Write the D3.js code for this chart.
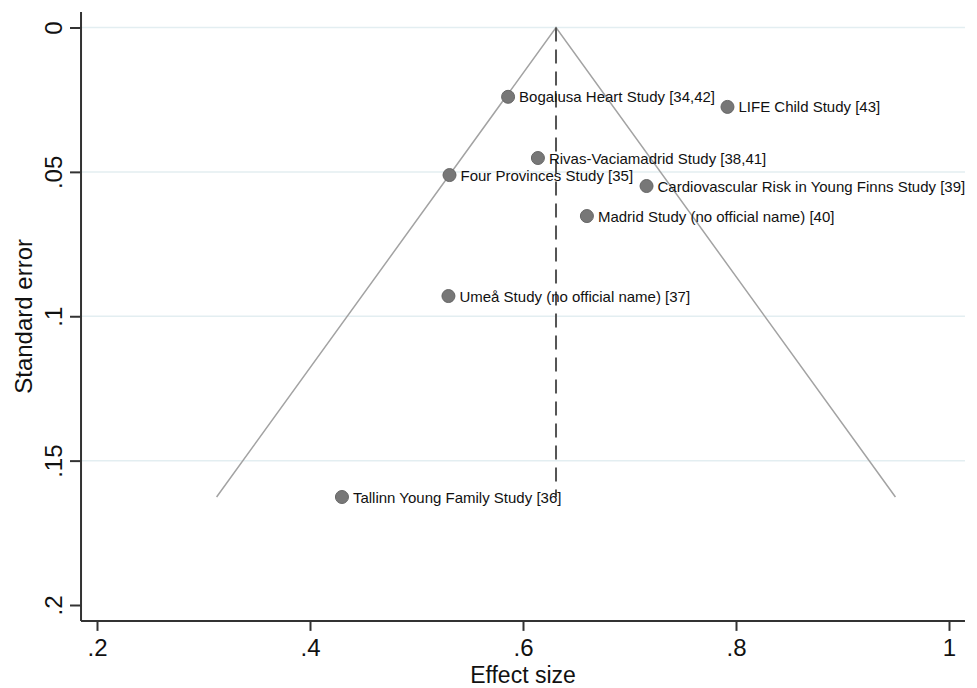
<!DOCTYPE html>
<html>
<head>
<meta charset="utf-8">
<script src="https://cdn.jsdelivr.net/npm/d3@7"></script>
<style>
  html, body { margin: 0; padding: 0; background: #fff; }
  svg { display: block; }
  text { font-family: Arial, "Liberation Sans", sans-serif; }
</style>
</head>
<body>
<svg id="chart" width="977" height="688"></svg>
<script>
// ---- data ----
const studies = [
  "Bogalusa Heart Study [34,42]",
  "LIFE Child Study [43]",
  "Rivas-Vaciamadrid Study [38,41]",
  "Four Provinces Study [35]",
  "Cardiovascular Risk in Young Finns Study [39]",
  "Madrid Study (no official name) [40]",
  "Umeå Study (no official name) [37]",
  "Tallinn Young Family Study [36]"
];
const effectSize = [0.586, 0.792, 0.614, 0.531, 0.716, 0.660, 0.530, 0.430];
const standardError = [0.024, 0.0275, 0.0452, 0.0511, 0.0549, 0.0653, 0.0930, 0.1626];
const pooledEffect = 0.631;
const xTicks = [0.2, 0.4, 0.6, 0.8, 1.0];
const xTickLabels = [".2", ".4", ".6", ".8", "1"];
const yTicks = [0, 0.05, 0.1, 0.15, 0.2];
const yTickLabels = ["0", ".05", ".1", ".15", ".2"];
const yGrid = [0, 0.05, 0.1, 0.15];

// ---- layout ----
const svg = d3.select("#chart");
const x = d3.scaleLinear().domain([0.2, 1.0]).range([97, 949]);
const y = d3.scaleLinear().domain([0, 0.2]).range([27.5, 605]);
const xExtent = [0.185, 1.015];
const yExtent = [-0.0054, 0.2055];

// gridlines
svg.append("g").selectAll("line").data(yGrid).join("line")
  .attr("x1", x(xExtent[0])).attr("x2", x(xExtent[1]))
  .attr("y1", d => y(d)).attr("y2", d => y(d))
  .attr("stroke", "#e3eef1").attr("stroke-width", 1.5);

// funnel (95% pseudo-confidence limits)
const maxSE = d3.max(standardError);
const funnel = [
  [pooledEffect - 1.96 * maxSE, maxSE],
  [pooledEffect, 0],
  [pooledEffect + 1.96 * maxSE, maxSE]
];
svg.append("path")
  .attr("d", d3.line().x(d => x(d[0])).y(d => y(d[1]))(funnel))
  .attr("fill", "none").attr("stroke", "#a3a3a3").attr("stroke-width", 1.5);

// pooled effect dashed line
svg.append("line")
  .attr("x1", x(pooledEffect)).attr("x2", x(pooledEffect))
  .attr("y1", y(0)).attr("y2", y(maxSE))
  .attr("stroke", "#555").attr("stroke-width", 2)
  .attr("stroke-dasharray", "14,8");

// points
const pts = d3.range(studies.length).map(i => ({name: studies[i], es: effectSize[i], se: standardError[i]}));
svg.append("g").selectAll("circle").data(pts).join("circle")
  .attr("cx", d => x(d.es)).attr("cy", d => y(d.se)).attr("r", 6.5)
  .attr("fill", "#777777").attr("stroke", "#666").attr("stroke-width", 1);

svg.append("g").selectAll("text").data(pts).join("text")
  .attr("x", d => x(d.es) + 11).attr("y", d => y(d.se) + 5.5)
  .attr("font-size", 15).attr("fill", "#111")
  .text(d => d.name);

// axes
const axisColor = "#333";
svg.append("line")
  .attr("x1", x(xExtent[0])).attr("x2", x(xExtent[0]))
  .attr("y1", y(yExtent[0])).attr("y2", y(yExtent[1]))
  .attr("stroke", axisColor).attr("stroke-width", 2);
svg.append("line")
  .attr("x1", x(xExtent[0])).attr("x2", x(xExtent[1]))
  .attr("y1", y(yExtent[1])).attr("y2", y(yExtent[1]))
  .attr("stroke", axisColor).attr("stroke-width", 2);

// x ticks
const xAxisY = y(yExtent[1]);
const gx = svg.append("g").attr("transform", `translate(0,${xAxisY})`)
  .call(d3.axisBottom(x).tickValues(xTicks).tickSize(10).tickSizeOuter(0)
    .tickFormat((d, i) => xTickLabels[i]));
gx.select(".domain").remove();
gx.selectAll(".tick line").attr("stroke", axisColor).attr("stroke-width", 2);
gx.selectAll(".tick text").attr("font-size", 24).attr("fill", "#111")
  .attr("font-family", "Arial, 'Liberation Sans', sans-serif")
  .attr("dy", null).attr("y", 35);

// y ticks
const yAxisX = x(xExtent[0]);
const gy = svg.append("g").attr("transform", `translate(${yAxisX},0)`)
  .call(d3.axisLeft(y).tickValues(yTicks).tickSize(11).tickSizeOuter(0)
    .tickFormat((d, i) => yTickLabels[i]));
gy.select(".domain").remove();
gy.selectAll(".tick line").attr("stroke", axisColor).attr("stroke-width", 2);
gy.selectAll(".tick text").attr("font-size", 24).attr("fill", "#111")
  .attr("font-family", "Arial, 'Liberation Sans', sans-serif")
  .attr("x", null).attr("dy", null)
  .attr("text-anchor", "middle")
  .attr("transform", "translate(-19,0) rotate(-90)");

// axis titles
svg.append("text")
  .attr("x", (x(xExtent[0]) + x(xExtent[1])) / 2).attr("y", 683)
  .attr("text-anchor", "middle").attr("font-size", 23).attr("fill", "#111")
  .text("Effect size");
svg.append("text")
  .attr("transform", `translate(32,${(y(yExtent[0]) + y(yExtent[1])) / 2}) rotate(-90)`)
  .attr("text-anchor", "middle").attr("font-size", 24).attr("fill", "#111")
  .text("Standard error");
</script>
</body>
</html>
